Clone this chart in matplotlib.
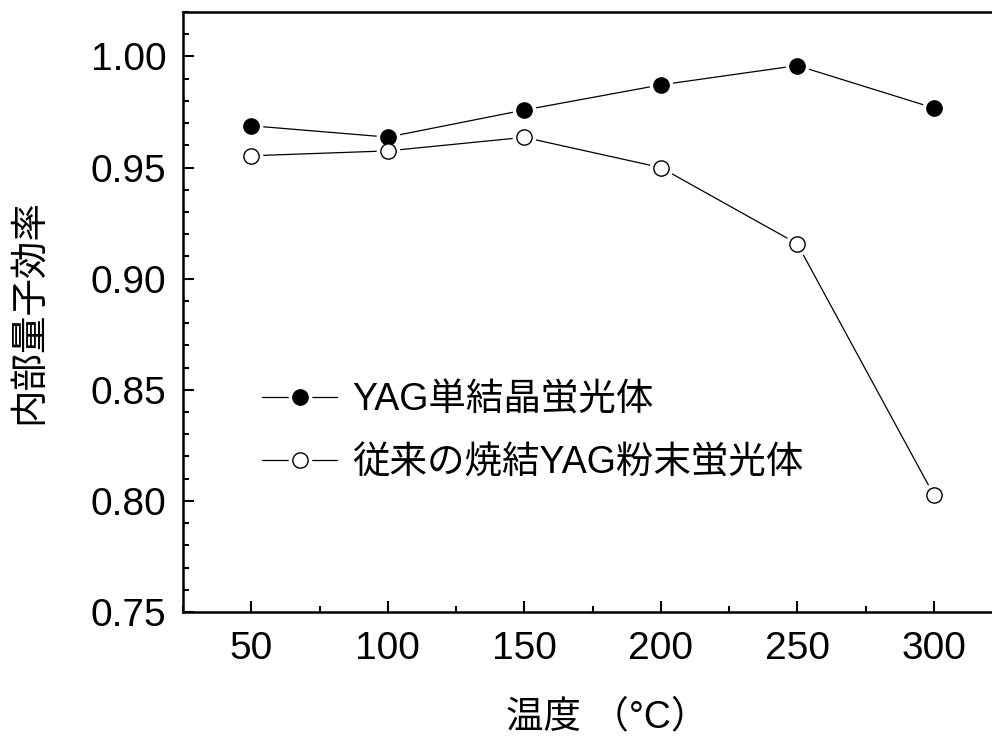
import matplotlib
matplotlib.use("Agg")
import matplotlib.pyplot as plt
from matplotlib.ticker import MultipleLocator
from matplotlib.legend_handler import HandlerTuple

plt.rcParams['font.family'] = ['Liberation Sans', 'Noto Sans CJK JP', 'DejaVu Sans']

temps = [50, 100, 150, 200, 250, 300]
single_crystal = [0.9688, 0.9637, 0.9759, 0.9872, 0.9959, 0.9768]
sintered_powder = [0.9553, 0.9575, 0.9636, 0.9500, 0.9157, 0.8027]
labels = ["YAG単結晶蛍光体", "従来の焼結YAG粉末蛍光体"]

W, H = 992, 736
fig = plt.figure(figsize=(W / 100, H / 100), dpi=100)
ax = fig.add_axes([183 / W, 1 - 612 / H, (1002 - 183) / W, 600 / H])

lw = 0.9
ms = 11
handles = []
for vals, fc in [(single_crystal, "black"), (sintered_powder, "white")]:
    ln, = ax.plot(temps, vals, color="black", lw=lw, zorder=1)
    halo, = ax.plot(temps, vals, ls="none", marker="o", ms=ms + 5,
                    mfc="white", mec="white", zorder=2)
    mk, = ax.plot(temps, vals, ls="none", marker="o", ms=ms,
                  mfc=fc, mec="black", mew=1.0, zorder=3)
    handles.append((ln, halo, mk))

ax.set_xlim(25, 325)
ax.set_ylim(0.75, 1.02)
ax.xaxis.set_major_locator(MultipleLocator(50))
ax.xaxis.set_minor_locator(MultipleLocator(25))
ax.yaxis.set_major_locator(MultipleLocator(0.05))
ax.yaxis.set_minor_locator(MultipleLocator(0.01))
ax.set_xticks([50, 100, 150, 200, 250, 300])
ax.yaxis.set_major_formatter(plt.FuncFormatter(lambda v, p: f"{v:.2f}"))

for s in ax.spines.values():
    s.set_linewidth(1.8)
ax.tick_params(which="both", direction="in", width=1.5, labelsize=28)
ax.tick_params(which="major", length=8)
ax.tick_params(which="minor", length=4)
ax.tick_params(axis="x", which="both", pad=14, top=False)
ax.tick_params(axis="y", which="both", pad=12, right=False)

ax.set_xlabel("温度 （°C）", fontsize=27, va="center")
ax.xaxis.set_label_coords(0.5 + 15 / 819, (612 - 717) / 600)
ax.set_ylabel("内部量子効率", fontsize=27, va="center")
ax.yaxis.set_label_coords((29 - 183) / 819, 0.5)

ax.legend(handles, labels, handler_map={tuple: HandlerTuple(ndivide=1)},
          loc="center left", bbox_to_anchor=((262 - 183) / 819, (612 - 432) / 600),
          frameon=False, fontsize=27, handlelength=2.0, handletextpad=0.4,
          labelspacing=0.72, borderpad=0, borderaxespad=0)

fig.savefig("out.png", dpi=100)
